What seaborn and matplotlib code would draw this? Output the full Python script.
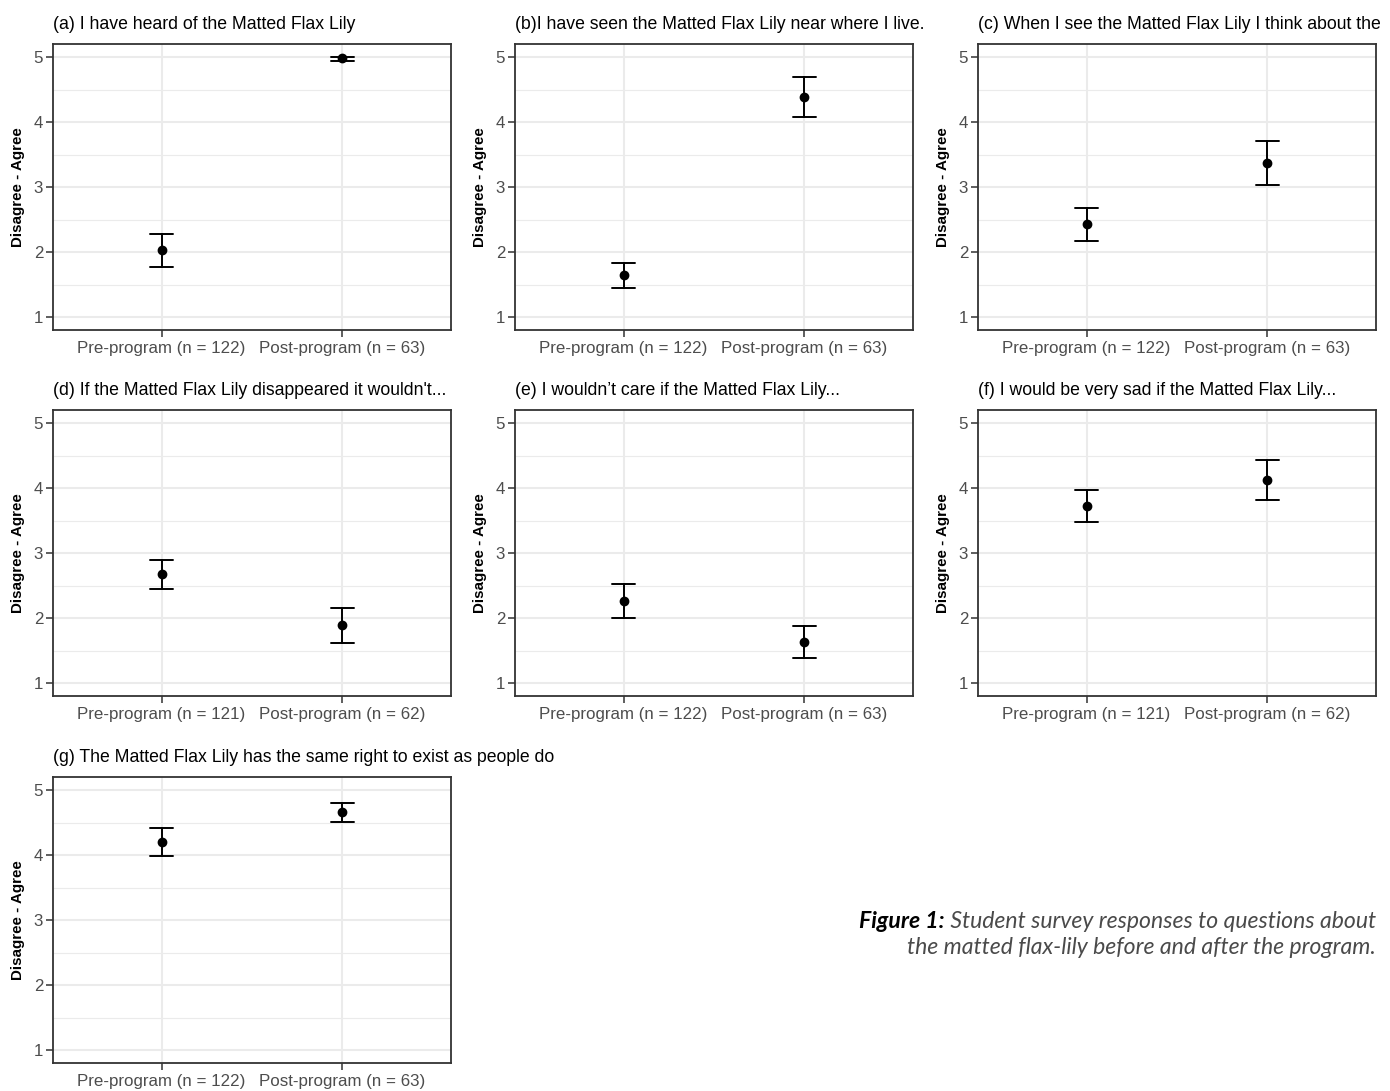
import numpy as np
import pandas as pd
import matplotlib
matplotlib.use("Agg")
import matplotlib.pyplot as plt
import seaborn as sns

# ---- data (mean and error bar ends) ----
titles = [
    "(a) I have heard of the Matted Flax Lily",
    "(b)I have seen the Matted Flax Lily near where I live.",
    "(c) When I see the Matted Flax Lily I think about the",
    "(d) If the Matted Flax Lily disappeared it wouldn't...",
    "(e) I wouldn\u2019t care if the Matted Flax Lily...",
    "(f) I would be very sad if the Matted Flax Lily...",
    "(g) The Matted Flax Lily has the same right to exist as people do",
]
n_pre = [122, 122, 122, 121, 122, 121, 122]
n_post = [63, 63, 63, 62, 63, 62, 63]

pre_mean = [2.03, 1.64, 2.43, 2.67, 2.26, 3.73, 4.20]
pre_lo = [1.77, 1.45, 2.17, 2.44, 2.00, 3.48, 3.99]
pre_hi = [2.28, 1.83, 2.68, 2.89, 2.52, 3.97, 4.42]
post_mean = [4.98, 4.38, 3.37, 1.885, 1.63, 4.13, 4.66]
post_lo = [4.94, 4.08, 3.03, 1.61, 1.38, 3.82, 4.51]
post_hi = [5.00, 4.69, 3.71, 2.15, 1.88, 4.43, 4.80]

sns.set_theme(style="white")
plt.rcParams["font.family"] = ["Liberation Sans", "DejaVu Sans"]

W, H = 1390, 1091
fig = plt.figure(figsize=(W / 100, H / 100), dpi=100)

lefts = [53, 515, 978]
tops = [44, 410, 777]
aw, ah = 398, 286

for i in range(7):
    r, c = divmod(i, 3)
    ax = fig.add_axes([lefts[c] / W, 1 - (tops[r] + ah) / H, aw / W, ah / H])

    pre_lab = f"Pre-program (n = {n_pre[i]})"
    post_lab = f"Post-program (n = {n_post[i]})"
    # median of (lo, mean, hi) = mean, min-max interval = error bar
    df = pd.DataFrame({
        "group": [pre_lab] * 3 + [post_lab] * 3,
        "score": [pre_lo[i], pre_mean[i], pre_hi[i],
                  post_lo[i], post_mean[i], post_hi[i]],
    })
    sns.pointplot(data=df, x="group", y="score", order=[pre_lab, post_lab],
                  estimator="median", errorbar=("pi", 100), capsize=0.125,
                  color="black", linestyle="none", markersize=5,
                  err_kws={"linewidth": 1.4}, ax=ax)

    ax.set_xlim(-0.6, 1.6)
    ax.set_ylim(0.8, 5.2)
    ax.set_yticks([1, 2, 3, 4, 5])
    ax.set_yticks([1.5, 2.5, 3.5, 4.5], minor=True)
    ax.grid(True, which="major", color="#EBEBEB", linewidth=1.5)
    ax.grid(True, which="minor", axis="y", color="#EBEBEB", linewidth=0.8)
    ax.set_axisbelow(True)
    for sp in ax.spines.values():
        sp.set_color("#333333")
        sp.set_linewidth(1.3)
    ax.tick_params(axis="both", which="major", length=5, width=1.1,
                   color="#333333", labelcolor="#4D4D4D", labelsize=12.2,
                   left=True, bottom=True, pad=2)
    ax.tick_params(axis="x", pad=3)
    ax.tick_params(which="minor", length=0)
    ax.set_xlabel("")
    ax.set_ylabel("Disagree - Agree", fontsize=10.9, fontweight="bold",
                  color="black", labelpad=6)
    ax.annotate(titles[i], xy=(0, 1), xycoords="axes fraction",
                xytext=(0, 10.6), textcoords="offset points",
                ha="left", va="baseline", fontsize=12.7, color="black",
                annotation_clip=False)

# caption
cap_kw = dict(family=["Lato", "DejaVu Sans"], style="italic", fontsize=16.6)
t1 = fig.text(1376 / W, 1 - 928 / H, " Student survey responses to questions about",
              ha="right", va="baseline", color="#4a4a4a", **cap_kw)
fig.text(1376 / W, 1 - 954 / H, "the matted flax-lily before and after the program.",
         ha="right", va="baseline", color="#4a4a4a", **cap_kw)
fig.canvas.draw()
bb = t1.get_window_extent()
fig.text(bb.x0 / W, 1 - 928 / H, "Figure 1:", ha="right", va="baseline",
         fontweight="bold", color="black", **cap_kw)

fig.savefig("out.png", dpi=100)
